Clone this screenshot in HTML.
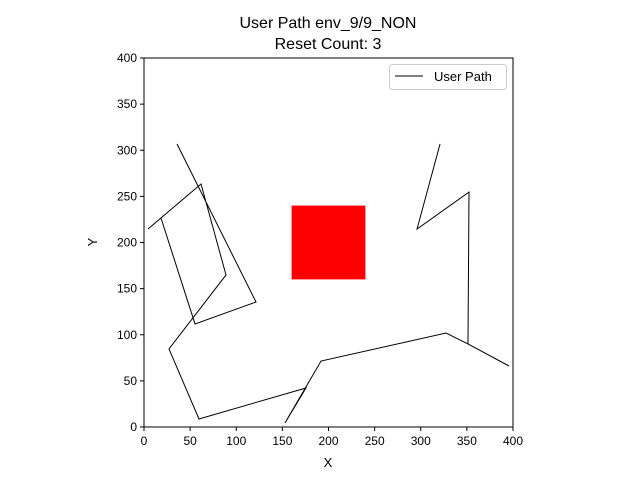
<!DOCTYPE html>
<html><head><meta charset="utf-8"><style>body{margin:0;background:#fff}svg text{font-family:"Liberation Sans",sans-serif;fill:#000}</style></head>
<body>
<svg id="c" width="640" height="480" xmlns="http://www.w3.org/2000/svg"></svg>
<script>
const pathX=[35.8,121.4,55.3,18.4,4.3,18.4,61.8,88.9,27.1,59.6,175.6,152.8,191.9,327.4,351.2,395.7,351.2,352.3,296,320.9];
const pathY=[306.8,135.5,111.7,226.6,214.6,226.6,263.4,164.8,84.6,8.7,42.3,4.3,71.5,101.9,90,66.1,90,254.7,214.6,306.8];
const obstacle=[160,160,240,240];
const xTicks=[0,50,100,150,200,250,300,350,400];
const yTicks=[0,50,100,150,200,250,300,350,400];
const L=144,R=513,T=58,B=427;
const sx=v=>L+(v/400)*(R-L), sy=v=>B-(v/400)*(B-T);
const s=document.getElementById('c'),NS='http://www.w3.org/2000/svg';
function mk(t,a,p){const e=document.createElementNS(NS,t);for(const k in a)e.setAttribute(k,a[k]);(p||s).appendChild(e);return e;}
function tx(x,y,str,anchor,size,name){const e=mk('text',{x:x,y:y,'text-anchor':anchor,'font-size':size});e.textContent=str;

return e;}
let r=mk('rect',{x:sx(obstacle[0]),y:sy(obstacle[3]),width:sx(obstacle[2])-sx(obstacle[0]),height:sy(obstacle[1])-sy(obstacle[3]),fill:'#ff0000'});


let pts=pathX.map((x,i)=>sx(x)+','+sy(pathY[i])).join(' ');
let pl=mk('polyline',{points:pts,fill:'none',stroke:'#000','stroke-width':1});


let fr=mk('rect',{x:L,y:T,width:R-L,height:B-T,fill:'none',stroke:'#000','stroke-width':1});


xTicks.forEach(v=>{const l=mk('line',{x1:sx(v),x2:sx(v),y1:B,y2:B+4,stroke:'#000'});


tx(sx(v),B+18,String(v),'middle',12,'x-tick-label');});
yTicks.forEach(v=>{const l=mk('line',{x1:L-4,x2:L,y1:sy(v),y2:sy(v),stroke:'#000'});


tx(L-7,sy(v)+4,String(v),'end',12,'y-tick-label');});
tx(328,467,'X','middle',13,'x-axis-title');
const yt=tx(0,0,'Y','middle',13,'y-axis-title');yt.setAttribute('transform','translate(97,242) rotate(-90)');
tx(328,28,'User Path env_9/9_NON','middle',16,'chart-title');
tx(328,49,'Reset Count: 3','middle',16,'chart-subtitle');
const g=mk('g',{});


mk('rect',{x:389.5,y:64.5,width:117,height:25,rx:3,fill:'#fff',stroke:'#ccc'},g);
mk('line',{x1:395,x2:423,y1:76,y2:76,stroke:'#000'},g);
const lt=mk('text',{x:434,y:81,'font-size':13},g);lt.textContent='User Path';


</script>
</body></html>
